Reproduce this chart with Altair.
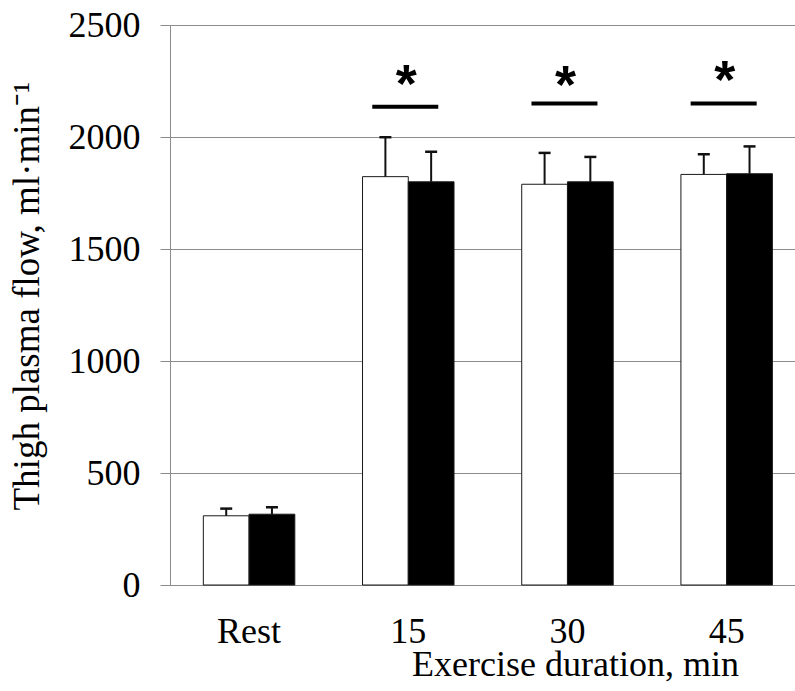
import altair as alt
import pandas as pd

# Thigh plasma flow by exercise duration, two trials (mean + SD)
categories = ["Rest", "15", "30", "45"]
series = ["Trial 1", "Trial 2"]
means_1 = [309, 1823, 1789, 1833]
sd_1 = [32, 176, 140, 90]
means_2 = [316, 1800, 1800, 1836]
sd_2 = [31, 134, 111, 122]

# Significance markers above the exercise time points
sig_groups = ["15", "30", "45"]
sig_line = [2135, 2150, 2150]
sig_star = [2158, 2154, 2173]

y_ticks = [0, 500, 1000, 1500, 2000, 2500]

rows = []
for i, c in enumerate(categories):
    rows.append(dict(time=c, trial=series[0], mean=means_1[i], upper=means_1[i] + sd_1[i]))
    rows.append(dict(time=c, trial=series[1], mean=means_2[i], upper=means_2[i] + sd_2[i]))
df = pd.DataFrame(rows)
sig_df = pd.DataFrame({"time": sig_groups, "line": sig_line, "star": sig_star})

SERIF = "Liberation Serif"
GREY = "#8c8c8c"

x_scale = alt.Scale(domain=categories, paddingInner=0.4253, paddingOuter=0.1757, align=0.596)
y_scale = alt.Scale(domain=[0, 2500], nice=False, zero=True)

x_axis = alt.Axis(
    title="Exercise duration, min",
    labelAngle=0, ticks=False, grid=False,
    domainColor=GREY, domainWidth=1,
    labelFont=SERIF, labelFontSize=36, labelColor="black",
    labelBaseline="alphabetic", labelPadding=57,
    titleFont=SERIF, titleFontSize=36, titleFontWeight="normal", titleColor="black",
    titleX=405, titleY=90, titleAlign="center", titleBaseline="alphabetic",
)
y_axis = alt.Axis(
    title="Thigh plasma flow, ml·min⁻¹",
    values=y_ticks, format="d", grid=True, gridColor=GREY, gridWidth=1,
    domainColor=GREY, tickColor=GREY, tickSize=10,
    labelFont=SERIF, labelFontSize=36, labelColor="black", labelPadding=20,
    titleFont=SERIF, titleFontSize=37, titleFontWeight="normal", titleColor="black",
    titleAngle=270, titleX=-132, titleY=485, titleAlign="left", titleBaseline="alphabetic",
)

x_enc = alt.X("time:N", scale=x_scale, sort=categories, axis=x_axis)
x_plain = alt.X("time:N", scale=x_scale, sort=categories)
xo_enc = alt.XOffset("trial:N", scale=alt.Scale(domain=series), sort=series)

base = alt.Chart(df)

bars = base.mark_bar(stroke="#1a1a1a", strokeWidth=1).encode(
    x=x_enc,
    xOffset=xo_enc,
    y=alt.Y("mean:Q", scale=y_scale, axis=y_axis),
    color=alt.Color("trial:N", scale=alt.Scale(domain=series, range=["white", "black"]), legend=None),
)

err = base.mark_rule(strokeWidth=2, color="#111111", opacity=1).encode(
    x=x_plain, xOffset=xo_enc,
    y=alt.Y("mean:Q", scale=y_scale), y2="upper:Q",
)

caps = base.mark_tick(orient="horizontal", size=12, thickness=2.5, color="#111111", opacity=1).encode(
    x=x_plain, xOffset=xo_enc,
    y=alt.Y("upper:Q", scale=y_scale),
)

sig = alt.Chart(sig_df).mark_tick(
    orient="horizontal", size=66, thickness=4, color="black", opacity=1, xOffset=-3
).encode(
    x=x_plain,
    y=alt.Y("line:Q", scale=y_scale),
)

stars = alt.Chart(sig_df).mark_text(
    text="*", font="Liberation Sans", fontWeight="bold", fontSize=54,
    baseline="alphabetic", align="center", color="black", xOffset=-2,
).encode(
    x=x_plain,
    y=alt.Y("star:Q", scale=y_scale),
)

chart = alt.layer(bars, err, caps, sig, stars).properties(
    width=625, height=560,
    padding={"left": 170, "top": 25, "right": 0, "bottom": 106},
    autosize=alt.AutoSizeParams(type="none"),
).configure_view(stroke=None)

chart.save("out.html", embed_options={"renderer": "svg", "actions": False})
